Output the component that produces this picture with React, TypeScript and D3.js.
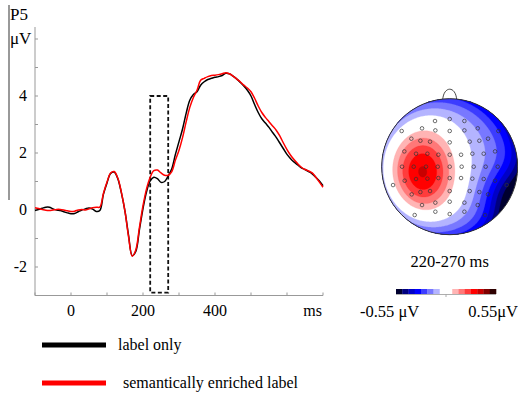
import React from "react";
import * as d3 from "d3";

const times = [-100,-90,-80,-70,-60,-50,-40,-30,-20,-10,0,10,20,30,40,50,60,70,80,90,100,110,120,130,140,150,160,170,180,190,200,210,220,230,240,250,260,270,280,290,300,310,320,330,340,350,360,370,380,390,400,410,420,430,440,450,460,470,480,490,500,510,520,530,540,550,560,570,580,590,600,610,620,630,640,650,660,670,680,690,700];

const labelOnly = [-0.02,0.02,0.06,0.1,0.1,0.04,0.0,-0.02,-0.06,-0.1,-0.13,-0.12,-0.06,0.0,0.04,0.07,0.03,-0.05,-0.02,0.55,0.95,1.28,1.33,1.1,0.6,-0.05,-0.9,-1.6,-1.45,-0.7,0.05,0.65,1.02,1.15,1.1,0.97,1.0,1.2,1.45,1.95,2.4,2.85,3.4,3.85,4.05,4.15,4.38,4.5,4.58,4.62,4.66,4.68,4.72,4.8,4.78,4.7,4.6,4.48,4.35,4.2,4.0,3.7,3.42,3.2,3.05,2.9,2.72,2.55,2.35,2.15,1.95,1.8,1.68,1.58,1.48,1.42,1.35,1.27,1.15,1.02,0.85];

const enriched = [0.08,0.05,0.02,-0.01,-0.02,0.0,0.02,0.02,0.0,-0.03,-0.05,-0.04,0.0,0.02,0.0,0.04,0.08,0.1,0.1,0.58,0.98,1.3,1.35,1.12,0.62,-0.05,-0.95,-1.62,-1.4,-0.62,0.15,0.75,1.15,1.38,1.4,1.3,1.22,1.22,1.35,1.75,2.1,2.55,3.1,3.6,3.95,4.2,4.55,4.62,4.68,4.72,4.73,4.75,4.78,4.82,4.78,4.7,4.6,4.5,4.38,4.28,4.15,3.92,3.65,3.42,3.25,3.1,2.95,2.8,2.6,2.35,2.12,1.92,1.76,1.62,1.5,1.42,1.37,1.3,1.15,0.98,0.8];

const yTicks = [-3,-2,-1,0,1,2,3,4,5,6];
const yTickLabels = [-2,0,2,4];
const xTicks = [-100,0,100,200,300,400,500,600,700];
const xTickLabels = [0,200,400];
const windowMs = [220, 270];

const legendLabels = ["label only", "semantically enriched label"];
const seriesColors = ["#000000", "#ff0000"];

// topography
const electrodes: [number, number][] = [
  [-0.216,-0.672],[0,-0.701],[0.216,-0.672],
  [-0.706,-0.525],[-0.407,-0.564],[-0.211,-0.534],[0,-0.525],[0.216,-0.534],[0.412,-0.564],[0.716,-0.525],
  [-0.564,-0.412],[-0.431,-0.382],[-0.289,-0.368],[0,-0.358],[0.294,-0.368],[0.436,-0.382],[0.564,-0.412],
  [-0.667,-0.225],[-0.495,-0.191],[-0.328,-0.191],[-0.167,-0.176],[0,-0.176],[0.167,-0.176],[0.333,-0.191],[0.5,-0.191],[0.667,-0.225],
  [-0.701,0],[-0.529,0],[-0.348,0],[-0.176,0],[0,0],[0.176,0],[0.353,0],[0.529,0],[0.706,0],
  [-0.662,0.206],[-0.495,0.181],[-0.328,0.176],[-0.167,0.167],[0,0.167],[0.167,0.167],[0.333,0.176],[0.5,0.181],[0.667,0.206],
  [-0.833,0.27],[-0.559,0.407],[-0.431,0.373],[-0.289,0.358],[0,0.358],[0.294,0.358],[0.436,0.373],[0.564,0.407],[0.838,0.27],
  [-0.407,0.564],[-0.211,0.529],[0,0.515],[0.216,0.529],[0.412,0.564],
  [-0.515,0.711],[-0.211,0.662],[0,0.696],[0.216,0.662],[0.52,0.711],
];
const sourceU = [-0.38, 0.9];
const sourceV = [0.08, 0.45];
const sourceAmp = [0.36, -0.22];
const sourceSigU = [0.32, 0.3];
const sourceSigV = [0.4, 0.3];
const fieldOffset = -0.05;
const fieldLinearU = -0.12;
const fieldQuartic = -0.22;

const colorRange = [-0.55, 0.55];
const levelColors = ['#00002e','#000080','#0000c8','#0000ff','#3c3cff','#7878ff','#b4b4ff','#ffffff','#ffffff','#ffb4b4','#ff7878','#ff3c3c','#ff0000','#c80000','#800000','#2e0000'];
const topoTitle = "220-270 ms";
const cbLabels = ["-0.55 \u03bcV", "0.55\u03bcV"];

const FONT = "'Liberation Serif', 'Times New Roman', serif";

function field(u: number, v: number) {
  let f = fieldOffset + fieldLinearU * u + fieldQuartic * Math.pow(u * u + v * v, 2);
  for (let i = 0; i < sourceU.length; i++) {
    const du = (u - sourceU[i]) / sourceSigU[i];
    const dv = (v - sourceV[i]) / sourceSigV[i];
    f += sourceAmp[i] * Math.exp(-(du * du + dv * dv) / 2);
  }
  return f;
}

export default function App() {
  const x = d3.scaleLinear().domain([-100, 700]).range([35, 323]);
  const y = d3.scaleLinear().domain([-3, 4]).range([295.5, 96]);
  const yTop = 27;

  const line = d3.line<number>()
    .x((_, i) => x(times[i]))
    .y((d) => y(d))
    .curve(d3.curveCatmullRom.alpha(0.5));

  // topo
  const cx = 449.7, cy = 166.7, R = 68;
  const hx = d3.scaleLinear().domain([-1, 1]).range([cx - R, cx + R]);
  const hy = d3.scaleLinear().domain([-1, 1]).range([cy - R, cy + R]);
  const n = 160;
  const values: number[] = new Array(n * n);
  for (let j = 0; j < n; j++) {
    for (let i = 0; i < n; i++) {
      const u = -1 + (2 * (i + 0.5)) / n;
      const v = -1 + (2 * (j + 0.5)) / n;
      values[j * n + i] = field(u, v);
    }
  }
  const step = (colorRange[1] - colorRange[0]) / levelColors.length;
  const thresholds = levelColors.map((_, k) => colorRange[0] + k * step).slice(1);
  const contours = d3.contours().size([n, n]).thresholds(thresholds)(values);
  const gpath = d3.geoPath();
  const s = (2 * R) / n;

  const cb = d3.scaleLinear().domain(colorRange).range([396, 496]);

  return (
    <svg width={518} height={395} style={{ position: "absolute", left: 0, top: 0, background: "#fff" }} fontFamily={FONT}>
      {/* scale bar on the far left */}
      <line x1={9} x2={9} y1={5} y2={200} stroke="#777" strokeWidth={1.5} />
      <text x={10} y={20} fontSize={17}>P5</text>
      <text x={10} y={44} fontSize={17}>{"\u03bcV"}</text>

      {/* y axis */}
      <line x1={35} x2={35} y1={yTop} y2={y(-3)} stroke="#999" strokeWidth={1} />
      {yTicks.map((t) => (
        <line key={"yt" + t} x1={35} x2={38} y1={y(t)} y2={y(t)} stroke="#999" strokeWidth={1} />
      ))}
      {yTickLabels.map((t) => (
        <text key={"yl" + t} x={27} y={y(t) + 5} fontSize={16} textAnchor="end">{t}</text>
      ))}

      {/* x axis */}
      <line x1={35} x2={323} y1={y(-3)} y2={y(-3)} stroke="#999" strokeWidth={1} />
      {xTicks.map((t) => (
        <line key={"xt" + t} x1={x(t)} x2={x(t)} y1={y(-3)} y2={y(-3) - 3} stroke="#999" strokeWidth={1} />
      ))}
      {xTickLabels.map((t) => (
        <text key={"xl" + t} x={x(t)} y={316} fontSize={16} textAnchor="middle">{t}</text>
      ))}
      <text x={322} y={316} fontSize={16} textAnchor="end">ms</text>

      {/* window box */}
      <rect x={x(windowMs[0])} y={y(4)} width={x(windowMs[1]) - x(windowMs[0])} height={y(-2.9) - y(4)}
        fill="none" stroke="#111" strokeWidth={1.8} strokeDasharray="4,2.5" />

      {/* waveforms */}
      <path d={line(labelOnly) || ""} fill="none" stroke={seriesColors[0]} strokeWidth={1.5} />
      <path d={line(enriched) || ""} fill="none" stroke={seriesColors[1]} strokeWidth={1.5} />

      {/* legend */}
      {legendLabels.map((lab, i) => (
        <g key={lab}>
          <line x1={42} x2={106} y1={345 + i * 38} y2={345 + i * 38} stroke={seriesColors[i]} strokeWidth={5} />
          <text x={i === 0 ? 118 : 123} y={350 + i * 38} fontSize={16}>{lab}</text>
        </g>
      ))}

      {/* topography */}
      <defs>
        <clipPath id="headclip">
          <circle cx={cx} cy={cy} r={R} />
        </clipPath>
      </defs>
      <path d={`M${cx - 7},${cy - R + 1} C${cx - 6},${cy - R - 13} ${cx + 6},${cy - R - 13} ${cx + 7},${cy - R + 1}`} fill="none" stroke="#333" strokeWidth={0.9} />
      <g clipPath="url(#headclip)">
        <rect x={cx - R} y={cy - R} width={2 * R} height={2 * R} fill={levelColors[0]} />
        <g transform={`translate(${cx - R},${cy - R}) scale(${s})`}>
          {contours.map((c, k) => (
            <path key={k} d={gpath(c as any) || ""} fill={levelColors[k + 1]} stroke={levelColors[k + 1]} strokeWidth={0.3} />
          ))}
        </g>
      </g>
      <circle cx={cx} cy={cy} r={R} fill="none" stroke="#333" strokeWidth={1} />
      {electrodes.map(([u, v], i) => (
        <circle key={"e" + i} cx={hx(u)} cy={hy(v)} r={1.8} fill="none" stroke="#333" strokeWidth={0.7} />
      ))}
      <text x={cx} y={267} fontSize={16.5} textAnchor="middle">{topoTitle}</text>

      {/* colorbar */}
      {levelColors.map((c, k) => (
        <rect key={"cb" + k} x={cb(colorRange[0] + k * step)} y={289} width={cb(colorRange[0] + (k + 1) * step) - cb(colorRange[0] + k * step) + 0.3} height={5} fill={c} />
      ))}
      <line x1={396} x2={496} y1={294.5} y2={294.5} stroke="#999" strokeWidth={0.8} />
      <line x1={cb(0)} x2={cb(0)} y1={294.5} y2={297} stroke="#999" strokeWidth={0.8} />
      <text x={360} y={317} fontSize={16.5}>{cbLabels[0]}</text>
      <text x={518} y={317} fontSize={16.5} textAnchor="end">{cbLabels[1]}</text>
    </svg>
  );
}
